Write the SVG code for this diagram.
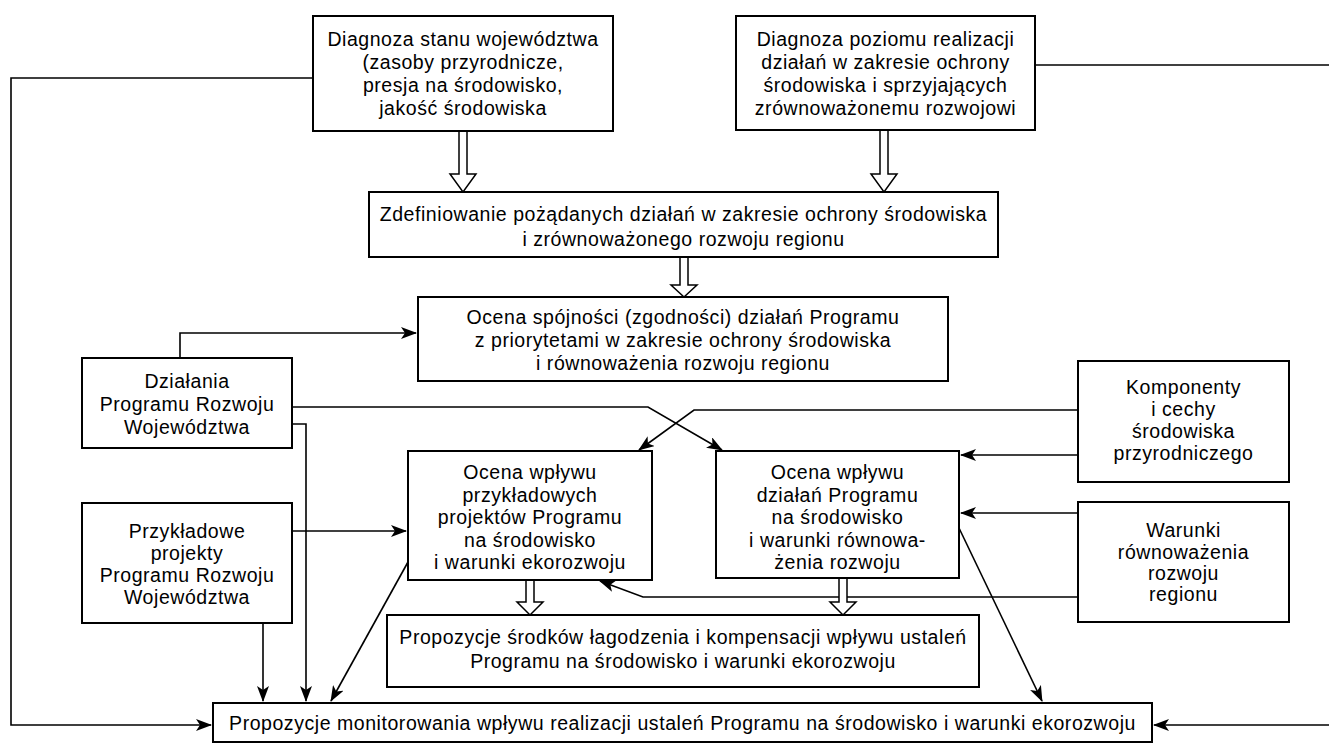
<svg xmlns="http://www.w3.org/2000/svg" width="1329" height="743" viewBox="0 0 1329 743">
<defs>
<style>
.box{fill:#fff;stroke:#000;stroke-width:2}
.t{font-family:"Liberation Sans","Arimo",Arial,sans-serif;font-size:19.5px;letter-spacing:0.55px;fill:#000;text-anchor:middle}
.c{fill:none;stroke:#000;stroke-width:1.6}
.h{fill:#fff;stroke:#000;stroke-width:1.5;stroke-linejoin:miter}
</style>
<marker id="ah" markerUnits="userSpaceOnUse" markerWidth="16" markerHeight="12" refX="15" refY="6" orient="auto">
<path d="M0,0 L16,6 L0,12 L4,6 Z" fill="#000"/>
</marker>
</defs>
<rect width="1329" height="743" fill="#fff"/>

<g id="connectors">
<path class="c" d="M313,78 H11 V725 H211" marker-end="url(#ah)"/>
<path class="c" d="M1035,65 H1329"/>
<path class="c" d="M1329,725 H1154" marker-end="url(#ah)"/>
<path class="c" d="M180,358 V333 H416" marker-end="url(#ah)"/>
<path class="c" d="M292,407 H648 L722,450" marker-end="url(#ah)"/>
<path class="c" d="M1078,410 H694 L639,450" marker-end="url(#ah)"/>
<path class="c" d="M292,424 H306 V701" marker-end="url(#ah)"/>
<path class="c" d="M292,531 H406" marker-end="url(#ah)"/>
<path class="c" d="M263,623 V701" marker-end="url(#ah)"/>
<path class="c" d="M408,562 L331,701" marker-end="url(#ah)"/>
<path class="c" d="M1078,455 H961" marker-end="url(#ah)"/>
<path class="c" d="M1078,513 H961" marker-end="url(#ah)"/>
<path class="c" d="M1078,597 H643 L600,581" marker-end="url(#ah)"/>
<path class="c" d="M959,528 L1042,701" marker-end="url(#ah)"/>
<polygon class="h" points="459,131 467,131 467,174 476,174 463,192 450,174 459,174"/>
<polygon class="h" points="880,130 888,130 888,174 897,174 884,192 871,174 880,174"/>
<polygon class="h" points="680,257 688,257 688,285 697,285 684,297 671,285 680,285"/>
<polygon class="h" points="526,580 534,580 534,602 543,602 530,615 517,602 526,602"/>
<polygon class="h" points="839,578 847,578 847,602 856,602 843,615 830,602 839,602"/>
</g>

<g id="diag-stan">
<rect class="box" x="313" y="16" width="300" height="115"/>
<text class="t" x="463" y="46">Diagnoza stanu województwa</text>
<text class="t" x="463" y="69">(zasoby przyrodnicze,</text>
<text class="t" x="463" y="92">presja na środowisko,</text>
<text class="t" x="463" y="115">jakość środowiska</text>
</g>

<g id="diag-poziom">
<rect class="box" x="736" y="16" width="299" height="114"/>
<text class="t" x="885.5" y="46">Diagnoza poziomu realizacji</text>
<text class="t" x="885.5" y="69">działań w zakresie ochrony</text>
<text class="t" x="885.5" y="92">środowiska i sprzyjających</text>
<text class="t" x="885.5" y="115">zrównoważonemu rozwojowi</text>
</g>

<g id="zdefiniowanie">
<rect class="box" x="369" y="192" width="629" height="65"/>
<text class="t" x="683.5" y="221">Zdefiniowanie pożądanych działań w zakresie ochrony środowiska</text>
<text class="t" x="683.5" y="246">i zrównoważonego rozwoju regionu</text>
</g>

<g id="spojnosc">
<rect class="box" x="418" y="297" width="530" height="84"/>
<text class="t" x="683" y="324">Ocena spójności (zgodności) działań Programu</text>
<text class="t" x="683" y="347">z priorytetami w zakresie ochrony środowiska</text>
<text class="t" x="683" y="370">i równoważenia rozwoju regionu</text>
</g>

<g id="dzialania">
<rect class="box" x="82" y="358" width="210" height="90"/>
<text class="t" x="187" y="388">Działania</text>
<text class="t" x="187" y="411">Programu Rozwoju</text>
<text class="t" x="187" y="434">Województwa</text>
</g>

<g id="komponenty">
<rect class="box" x="1078" y="361" width="211" height="121"/>
<text class="t" x="1183.5" y="394">Komponenty</text>
<text class="t" x="1183.5" y="416">i cechy</text>
<text class="t" x="1183.5" y="438">środowiska</text>
<text class="t" x="1183.5" y="460">przyrodniczego</text>
</g>

<g id="ocena-projekty">
<rect class="box" x="408" y="451" width="244" height="129"/>
<text class="t" x="530" y="479">Ocena wpływu</text>
<text class="t" x="530" y="502">przykładowych</text>
<text class="t" x="530" y="524">projektów Programu</text>
<text class="t" x="530" y="547">na środowisko</text>
<text class="t" x="530" y="569">i warunki ekorozwoju</text>
</g>

<g id="ocena-dzialania">
<rect class="box" x="716" y="451" width="243" height="127"/>
<text class="t" x="837.5" y="479">Ocena wpływu</text>
<text class="t" x="837.5" y="502">działań Programu</text>
<text class="t" x="837.5" y="524">na środowisko</text>
<text class="t" x="837.5" y="547">i warunki równowa-</text>
<text class="t" x="837.5" y="569">żenia rozwoju</text>
</g>

<g id="przykladowe">
<rect class="box" x="82" y="503" width="210" height="120"/>
<text class="t" x="187" y="538">Przykładowe</text>
<text class="t" x="187" y="560">projekty</text>
<text class="t" x="187" y="582">Programu Rozwoju</text>
<text class="t" x="187" y="604">Województwa</text>
</g>

<g id="warunki">
<rect class="box" x="1078" y="502" width="211" height="120"/>
<text class="t" x="1183.5" y="537">Warunki</text>
<text class="t" x="1183.5" y="559">równoważenia</text>
<text class="t" x="1183.5" y="580">rozwoju</text>
<text class="t" x="1183.5" y="601">regionu</text>
</g>

<g id="lagodzenie">
<rect class="box" x="387" y="615" width="592" height="72"/>
<text class="t" x="683" y="644">Propozycje środków łagodzenia i kompensacji wpływu ustaleń</text>
<text class="t" x="683" y="668">Programu na środowisko i warunki ekorozwoju</text>
</g>

<g id="monitorowanie">
<rect class="box" x="213" y="703" width="939" height="39"/>
<text class="t" x="682.5" y="730">Propozycje monitorowania wpływu realizacji ustaleń Programu na środowisko i warunki ekorozwoju</text>
</g>
</svg>
